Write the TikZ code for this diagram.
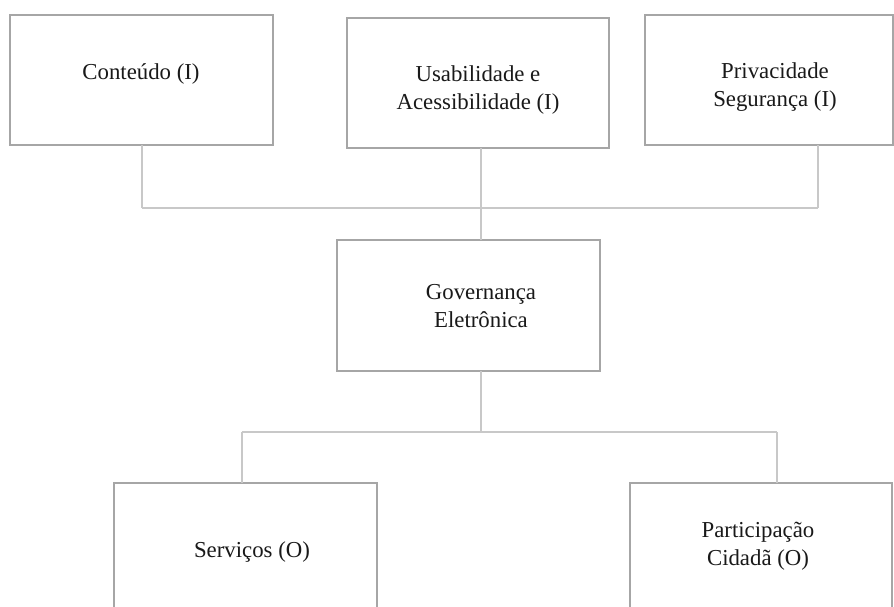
\documentclass[tikz,border=0pt]{standalone}
\usepackage{fontspec}
\setmainfont{Liberation Serif}
\definecolor{boxgray}{RGB}{166,166,166}
\definecolor{linegray}{RGB}{200,200,200}
\begin{document}
\begin{tikzpicture}[x=1pt,y=-1pt,
  box/.style={draw=boxgray, line width=1.6pt, fill=white, inner sep=0pt, outer sep=0pt, minimum height=130pt},
  conn/.style={draw=linegray, line width=1.3pt},
  lbl/.style={font=\fontsize{22.8}{27.5}\selectfont, align=center, inner sep=0pt, text=black!90}]
\clip (0,0) rectangle (894,607);
\fill[white] (0,0) rectangle (894,607);
% boxes
\node[box, minimum width=263pt] (c) at (141.5,80) {};
\node[box, minimum width=262pt] (u) at (478,83) {};
\node[box, minimum width=248pt] (p) at (769,80) {};
\node[box, minimum width=263pt, minimum height=131pt] (g) at (468.5,305.5) {};
\node[box, minimum width=263pt] (s) at (245.5,548) {};
\node[box, minimum width=262pt] (pc) at (761,548) {};
% labels
\node[lbl] (tc) at (141,74) {Conteúdo (I)};
\node[lbl] (tu) at (478,90) {Usabilidade e\\Acessibilidade (I)};
\node[lbl] (tp) at (775,87) {Privacidade\\Segurança (I)};
\node[lbl] (tg) at (481,306) {Governança\\Eletrônica};
\node[lbl] (ts) at (252,552) {Serviços (O)};
\node[lbl] (tpc) at (758,546) {Participação\\Cidadã (O)};
% junction points
\coordinate (j1) at (142,208);
\coordinate (j2) at (481,208);
\coordinate (j3) at (818,208);
\coordinate (k0) at (481,432);
\coordinate (k1) at (242,432);
\coordinate (k2) at (777,432);
% connectors
\draw[conn] (c.south -| j1) -- (j1);
\draw[conn] (p.south -| j3) -- (j3);
\draw[conn] (j1) -- (j3);
\draw[conn] (u.south -| j2) -- (j2) -- (g.north -| j2);
\draw[conn] (g.south -| k0) -- (k0);
\draw[conn] (k1) -- (k2);
\draw[conn] (k1) -- (s.north -| k1);
\draw[conn] (k2) -- (pc.north -| k2);
\end{tikzpicture}
\end{document}
